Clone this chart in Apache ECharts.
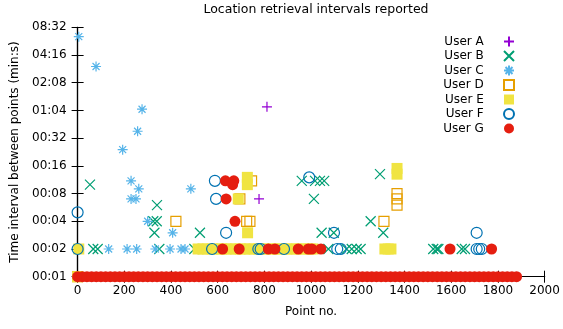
<!DOCTYPE html>
<html>
<head>
<meta charset="utf-8">
<script src="https://cdn.jsdelivr.net/npm/echarts@6/dist/echarts.min.js"></script>
<style>
  html, body { margin: 0; padding: 0; background: #fff; }
  #chart { width: 563px; height: 329px; }
</style>
</head>
<body>
<div id="chart"></div>
<script>
// [point no., interval in seconds]
const userA = [[811, 70], [777, 7]];
const userB = [[53, 10], [340, 6], [324, 4], [339, 4], [329, 3], [67, 2], [86, 2], [350, 2], [500, 2], [524, 3],
  [960, 11], [1017, 11], [1038, 11], [1056, 11], [1012, 7], [1045, 3], [1097, 3], [1074, 2], [1152, 2], [1174, 2],
  [1195, 2], [1212, 2], [1295, 13], [1255, 4], [1309, 3], [1523, 2], [1538, 2], [1545, 2], [1645, 2], [1659, 2]];
const userC = [[5, 405], [79, 192], [276, 66], [257, 38], [193, 24], [229, 11], [262, 9], [229, 7], [250, 7], [485, 9],
  [300, 4], [407, 3], [133, 2], [212, 2], [253, 2], [333, 2], [396, 2], [443, 2], [460, 2], [578, 2]];
const userD = [[0, 1], [421, 4], [745, 11], [695, 7], [724, 4], [738, 4], [1312, 4], [1368, 8], [1368, 7], [1368, 6]];
const userE = [[0, 1], [5, 2], [727, 12], [727, 10], [688, 7], [728, 3], [1368, 15], [1368, 13],
  [1316, 2], [1330, 2], [1342, 2],
  [516, 2], [536, 2], [556, 2], [576, 2], [596, 2], [616, 2], [636, 2], [656, 2], [676, 2], [696, 2], [716, 2],
  [736, 2], [756, 2], [776, 2], [796, 2], [816, 2], [836, 2], [856, 2], [876, 2], [896, 2], [916, 2], [936, 2],
  [956, 2], [976, 2], [996, 2], [1008, 2]];
const userF = [[0, 5], [0, 2], [588, 11], [593, 7], [636, 3], [576, 2], [774, 2], [784, 2], [884, 2], [992, 12],
  [1098, 3], [1112, 2], [1127, 2], [1709, 3], [1709, 2], [1720, 2], [1731, 2]];
const userG = [[633, 11], [669, 11], [664, 10], [636, 7], [674, 4], [621, 2], [692, 2], [817, 2], [845, 2],
  [945, 2], [988, 2], [1003, 2], [1042, 2], [1595, 2], [1773, 2]];
// the long run of 1 s intervals along the bottom
const userGBaseline = [0, 20, 40, 60, 80, 100, 120, 140, 160, 180, 200, 220, 240, 260, 280, 300, 320, 340, 360, 380,
  400, 420, 440, 460, 480, 500, 520, 540, 560, 580, 600, 620, 640, 660, 680, 700, 720, 740, 760, 780, 800, 820, 840,
  860, 880, 900, 920, 940, 960, 980, 1000, 1020, 1040, 1060, 1080, 1100, 1120, 1140, 1160, 1180, 1200, 1220, 1240,
  1260, 1280, 1300, 1320, 1340, 1360, 1380, 1400, 1420, 1440, 1460, 1480, 1500, 1520, 1540, 1560, 1580, 1600, 1620,
  1640, 1660, 1680, 1700, 1720, 1740, 1760, 1780, 1800, 1820, 1840, 1860, 1880];

const font = 'DejaVu Sans';

function toLog(list) {
  return list.map(p => [p[0], Math.log2(p[1])]);
}

function fmtTime(v) {
  const s = Math.round(Math.pow(2, v));
  const m = Math.floor(s / 60);
  const sec = s % 60;
  return String(m).padStart(2, '0') + ':' + String(sec).padStart(2, '0');
}

function mk(name, data, symbol, color, filled, size) {
  return {
    name: name,
    type: 'scatter',
    data: data,
    symbol: symbol,
    symbolSize: size,
    clip: false,
    itemStyle: filled
      ? { color: color, opacity: 1 }
      : { color: 'rgba(0,0,0,0)', borderColor: color, borderWidth: 1.2, opacity: 1 },
    emphasis: { disabled: true }
  };
}

const plus = 'path://M0,5L10,5M5,0L5,10';
const cross = 'path://M0,0L10,10M10,0L0,10';
const star = 'path://M0,5L10,5M5,0L5,10M1.5,1.5L8.5,8.5M8.5,1.5L1.5,8.5';

let myChart = echarts.init(document.getElementById('chart'));
myChart.setOption({
  animation: false,
  title: {
    text: 'Location retrieval intervals reported',
    left: 311,
    top: -2,
    textAlign: 'center',
    textStyle: { fontFamily: font, fontSize: 12.5, fontWeight: 'normal', color: '#000' }
  },
  legend: {
    orient: 'vertical',
    right: 48,
    top: 35.5,
    align: 'right',
    itemWidth: 10,
    itemHeight: 10,
    itemGap: 2.5,
    padding: 0,
    selectedMode: false,
    formatter: n => n + '\u00a0\u00a0\u00a0\u00a0',
    textStyle: { fontFamily: font, fontSize: 12, color: '#000' },
    data: ['User A', 'User B', 'User C', 'User D', 'User E', 'User F', 'User G']
  },
  grid: { left: 77.6, right: 18.4, top: 27.3, bottom: 52.3, containLabel: false },
  xAxis: [{
    type: 'value',
    min: 0,
    max: 2000,
    interval: 200,
    name: 'Point no.',
    nameLocation: 'middle',
    nameGap: 29,
    nameTextStyle: { fontFamily: font, fontSize: 12, color: '#000' },
    axisLine: { show: true, lineStyle: { color: '#000', width: 1.2 } },
    axisTick: { show: true, inside: true, length: 6, lineStyle: { color: '#000' } },
    axisLabel: { fontFamily: font, fontSize: 12, color: '#000', margin: 8, formatter: v => String(v) },
    splitLine: { show: false }
  }, {
    type: 'value',
    position: 'top',
    min: 0,
    max: 2000,
    interval: 200,
    axisLine: { show: true, lineStyle: { color: '#000', width: 1.2 } },
    axisTick: { show: true, inside: true, length: 6, lineStyle: { color: '#000' } },
    axisLabel: { show: false },
    splitLine: { show: false }
  }],
  yAxis: [{
    type: 'value',
    min: 0,
    max: 9,
    interval: 1,
    name: 'Time interval between points (min:s)',
    nameLocation: 'middle',
    nameGap: 57,
    nameTextStyle: { fontFamily: font, fontSize: 12, color: '#000' },
    axisLine: { show: true, lineStyle: { color: '#000', width: 1.2 } },
    axisTick: { show: true, inside: true, length: 6, lineStyle: { color: '#000' } },
    axisLabel: { fontFamily: font, fontSize: 12, color: '#000', margin: 11, formatter: fmtTime },
    splitLine: { show: false }
  }, {
    type: 'value',
    position: 'right',
    min: 0,
    max: 9,
    interval: 1,
    axisLine: { show: true, lineStyle: { color: '#000', width: 1.2 } },
    axisTick: { show: true, inside: true, length: 6, lineStyle: { color: '#000' } },
    axisLabel: { show: false },
    splitLine: { show: false }
  }],
  series: [
    mk('User A', toLog(userA), plus, '#9400d3', false, 10),
    mk('User B', toLog(userB), cross, '#009e73', false, 10),
    mk('User C', toLog(userC), star, '#56b4e9', false, 10),
    mk('User D', toLog(userD), 'rect', '#e69f00', false, 10),
    mk('User E', toLog(userE), 'rect', '#f0e442', true, 11),
    mk('User F', toLog(userF), 'circle', '#0072b2', false, 11),
    mk('User G', toLog(userG.concat(userGBaseline.map(x => [x, 1]))), 'circle', '#e51e10', true, 11)
  ]
});
window.addEventListener('resize', () => {
  if (myChart) {
    myChart.resize();
  }
});
</script>
</body>
</html>
